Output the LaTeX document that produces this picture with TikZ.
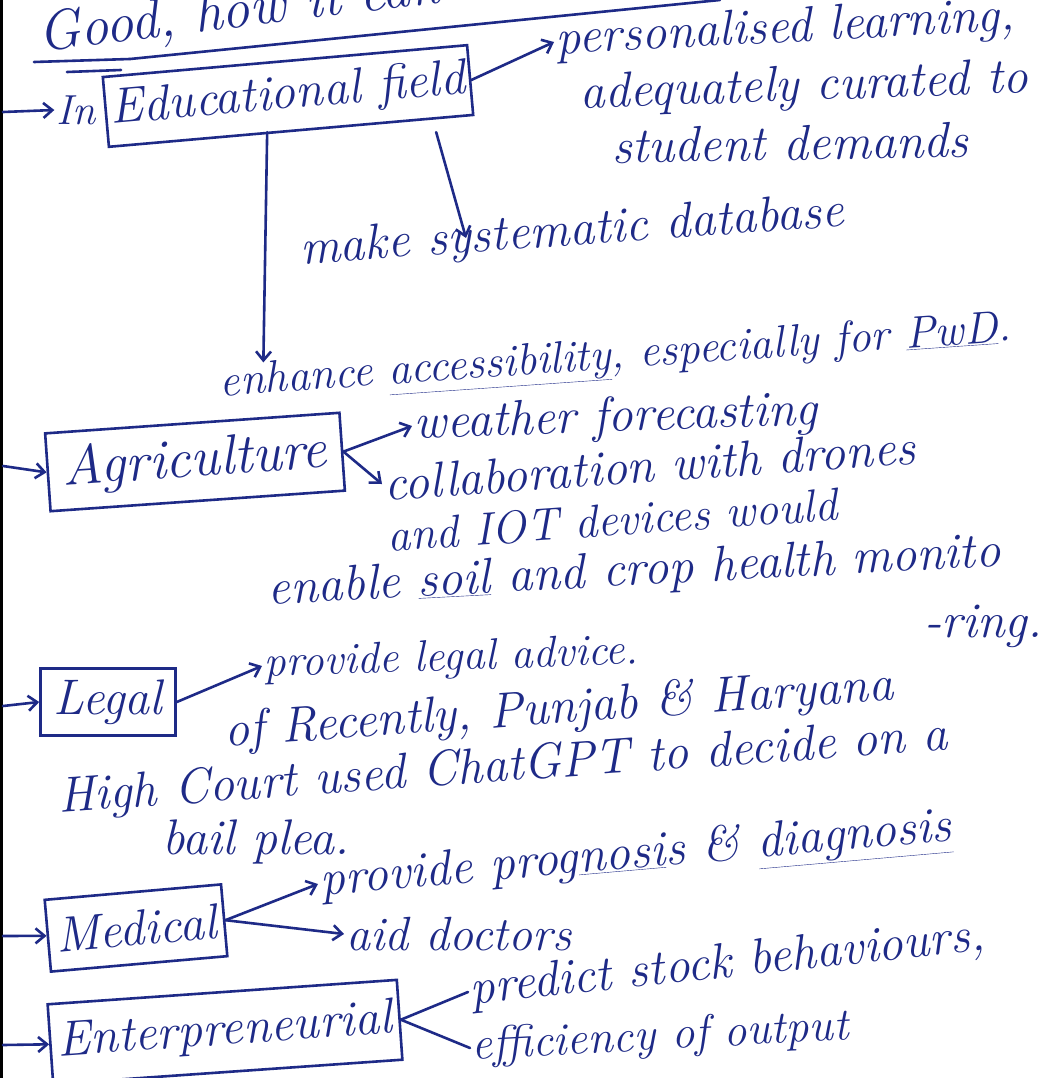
\documentclass[tikz,border=0pt]{standalone}
\usetikzlibrary{positioning,arrows.meta}
\definecolor{ink}{RGB}{30,42,135}

\begin{document}
\begin{tikzpicture}[x=1pt,y=-1pt,
	every node/.style={text=ink, font=\fontsize{50}{58}\selectfont\itshape, inner sep=2pt},
	line/.style={draw=ink, line width=2.6pt, line cap=round},
	arr/.style={line, -{Straight Barb[length=9pt,width=15pt]}},
	fieldbox/.style={draw=ink, line width=2.6pt, inner sep=5pt, font=\fontsize{50}{58}\selectfont\itshape},
	]
	\useasboundingbox (0,0) rectangle (1059,1078);
	\fill[white] (0,0) rectangle (1059,1078);
	\draw[black, line width=3pt] (1.5,0) -- (1.5,1078);
	
	%Heading
	\node[anchor=base west, rotate=7, font=\fontsize{56}{64}\selectfont\itshape] (head) at (38,52) {Good, how it can};
	\draw[line] (34,62) -- (130,59);
	\draw[line] (67,72) -- (121,70);
	\draw[line] (130,59) -- (720,0);
	
	%Nodes
	\coordinate (s1) at (3,112);
	\coordinate (s2) at (3,466);
	\coordinate (s3) at (3,706);
	\coordinate (s4) at (3,936);
	\coordinate (s5) at (3,1045);
	\node[font=\fontsize{42}{48}\selectfont\itshape] (in) at (76,110) {In};
	\node[fieldbox, rotate=5, minimum width=358, minimum height=70] (edu) at (288,96) {Educational field};
	\node[anchor=west, rotate=3] (pers)  at (554,42)   {personalised learning,};
	\node[anchor=west, rotate=2] (adeq)  at (578,96)   {adequately curated to};
	\node[anchor=west, rotate=1] (stud)  at (610,146)  {student demands};
	\node[anchor=west, rotate=4] (db)    at (298,252)  {make systematic database};
	\coordinate (dbin) at (466,238);
	\node[anchor=west, rotate=4, font=\fontsize{45}{52}\selectfont\itshape] (acc) at (218,386) {enhance \underline{accessibility}, especially for \underline{PwD}.};
	
	\node[fieldbox, rotate=4, minimum width=295, minimum height=78, font=\fontsize{56}{64}\selectfont\itshape] (agri) at (195,462) {Agriculture};
	\node[anchor=west, rotate=2] (wea)   at (412,426)  {weather forecasting};
	\node[anchor=west, rotate=4] (col)   at (382,484)  {collaboration with drones};
	\node[anchor=west, rotate=4, font=\fontsize{46}{52}\selectfont\itshape] (iot) at (385,536) {and IOT devices would};
	\node[anchor=west, rotate=3] (soil)  at (266,592)  {enable \underline{soil} and crop health monito};
	\node[anchor=west]           (ring)  at (922,626)  {-ring.};
	
	\node[fieldbox, minimum width=135, minimum height=67] (legal) at (108,702) {Legal};
	\node[anchor=west, rotate=2, font=\fontsize{44}{50}\selectfont\itshape] (ladv) at (262,666) {provide legal advice.};
	\node[anchor=west, rotate=4] (rec)   at (222,734)  {of Recently, Punjab \& Haryana};
	\node[anchor=west, rotate=4] (hc)    at (56,800)   {High Court used ChatGPT to decide on a};
	\node[anchor=west]           (bail)  at (160,842)  {bail plea.};
	
	\node[fieldbox, rotate=5, minimum width=177, minimum height=72] (med) at (136,928) {Medical};
	\node[anchor=west, rotate=5] (prog)  at (318,884)  {provide prog\underline{nosi}s \& \underline{diagnosis}};
	\node[anchor=west, font=\fontsize{48}{56}\selectfont\itshape] (aid) at (344,934) {aid doctors};
	
	\node[fieldbox, rotate=4, minimum width=350, minimum height=80] (ent) at (225,1032) {Enterpreneurial};
	\node[anchor=west, rotate=6] (pred)  at (468,992)  {predict stock behaviours,};
	\node[anchor=west, rotate=3, font=\fontsize{46}{52}\selectfont\itshape] (eff) at (470,1048) {efficiency of output};
	
	%Lines
	\draw[arr] (s1) -- (in.west);
	\draw[arr] (s2) -- (agri.west);
	\draw[arr] (s3) -- (legal.west);
	\draw[arr] (s4) -- (med.west);
	\draw[arr] (s5) -- (ent.west);
	\draw[arr] (edu.east) -- (pers.west);
	\draw[arr] ([xshift=145pt]edu.south) -- (dbin);
	\draw[arr] ([xshift=-24pt]edu.south) -- ([xshift=47pt]acc.north west);
	\draw[arr] (agri.east) -- (wea.west);
	\draw[arr] (agri.east) -- (col.west);
	\draw[arr] (legal.east) -- (ladv.west);
	\draw[arr] (med.east) -- (prog.west);
	\draw[arr] (med.east) -- (aid.west);
	\draw[line] (ent.east) -- (pred.west);
	\draw[line] (ent.east) -- (eff.west);
\end{tikzpicture}
\end{document}
